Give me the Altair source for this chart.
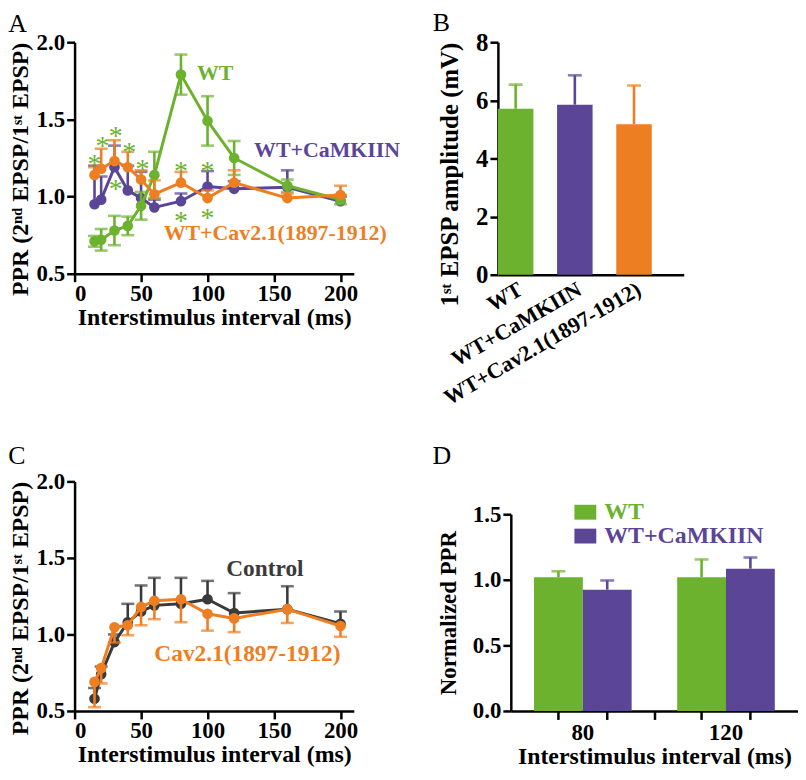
import altair as alt
import pandas as pd

FONT = "Liberation Serif"
GREEN = "#6cb22e"
PURPLE = "#5a4597"
ORANGE = "#ee7e22"
DARK = "#3a3a3a"

# ---------------- Panel A ----------------
isi = [15, 20, 30, 40, 50, 60, 80, 100, 120, 160, 200]
a_wt = [0.71, 0.72, 0.78, 0.81, 0.94, 1.14, 1.79, 1.49, 1.25, 1.07, 0.98]
a_wt_err = [0.035, 0.07, 0.095, 0.06, 0.09, 0.15, 0.13, 0.16, 0.11, 0.04, 0.03]
a_cam = [0.95, 0.98, 1.19, 1.04, 0.99, 0.93, 0.97, 1.065, 1.05, 1.06, 0.97]
a_cam_err = [0.25, 0.15, 0.14, 0.16, 0.17, 0.05, 0.05, 0.10, 0.05, 0.11, 0.03]
a_cav = [1.14, 1.18, 1.23, 1.19, 1.11, 1.015, 1.09, 0.99, 1.09, 0.99, 1.01]
a_cav_err = [0.05, 0.13, 0.135, 0.10, 0.06, 0.09, 0.07, 0.05, 0.08, 0.03, 0.06]

a_star_x = [15, 21, 31, 41, 51, 31, 80, 80, 100, 100]
a_star_y = [1.25, 1.365, 1.43, 1.33, 1.215, 1.09, 1.205, 0.88, 1.205, 0.90]

a_labels = ["WT", "WT+CaMKIIN", "WT+Cav2.1(1897-1912)"]
a_label_x = [92, 135, 67]
a_label_y = [1.80, 1.30, 0.765]
a_label_colors = [GREEN, PURPLE, ORANGE]

# ---------------- Panel B ----------------
b_groups = ["WT", "WT+CaMKIIN", "WT+Cav2.1(1897-1912)"]
b_mean = [5.71, 5.85, 5.18]
b_err = [0.83, 1.01, 1.33]
b_colors = [GREEN, PURPLE, ORANGE]

# ---------------- Panel C ----------------
c_ctrl = [0.58, 0.74, 0.95, 1.08, 1.15, 1.19, 1.20, 1.23, 1.14, 1.165, 1.07]
c_ctrl_err = [0.07, 0.05, 0.05, 0.12, 0.17, 0.18, 0.17, 0.12, 0.13, 0.15, 0.08]
c_cav = [0.69, 0.78, 1.047, 1.06, 1.18, 1.22, 1.23, 1.135, 1.105, 1.165, 1.055]
c_cav_err = [0.165, 0.10, 0.10, 0.065, 0.12, 0.12, 0.15, 0.11, 0.09, 0.09, 0.07]

c_labels = ["Control", "Cav2.1(1897-1912)"]
c_label_x = [114, 60]
c_label_y = [1.43, 0.87]
c_label_colors = [DARK, ORANGE]

# ---------------- Panel D ----------------
d_isi = ["80", "120"]
d_series = ["WT", "WT+CaMKIIN"]
d_wt = [1.02, 1.02]
d_wt_err = [0.045, 0.135]
d_cam = [0.925, 1.085]
d_cam_err = [0.07, 0.085]
d_colors = [GREEN, PURPLE]

X_TITLE = "Interstimulus interval (ms)"
PPR_TITLE = "PPR (2\u207f\u1d48 EPSP/1\u02e2\u1d57 EPSP)"


def panel_title(letter, offset, dx=0):
    return alt.TitleParams(letter, anchor="start", frame="bounds", font=FONT,
                           fontSize=26, fontWeight="normal", color="black",
                           baseline="top", offset=offset, dx=dx)


def ppr_panel(series, labels, lx, ly, lcol, lsize, stars, width, height, letter, toff):
    xs = alt.Scale(domain=[0, 210], nice=False, zero=False)
    ys = alt.Scale(domain=[0.5, 2.0], nice=False, zero=False)
    xax = alt.Axis(title=X_TITLE, values=[0, 50, 100, 150, 200], titlePadding=0,
                   labelPadding=1)
    yax = alt.Axis(title=PPR_TITLE, values=[0.5, 1.0, 1.5, 2.0], format=".1f",
                   titlePadding=4, titleAnchor="end")
    X = alt.X("isi:Q", scale=xs, axis=xax)
    layers = []
    for vals, errs, mode, color in series:
        rows, caps = [], []
        for x, v, e in zip(isi, vals, errs):
            lo = v - e if mode in ("both", "down") else v
            hi = v + e if mode in ("both", "up") else v
            rows.append({"isi": x, "v": v, "lo": lo, "hi": hi})
            if mode in ("both", "up"):
                caps.append({"isi": x, "c": hi})
            if mode in ("both", "down"):
                caps.append({"isi": x, "c": lo})
        d = pd.DataFrame(rows)
        cd = pd.DataFrame(caps)
        layers.append(alt.Chart(d).mark_rule(color=color, strokeWidth=2.6).encode(
            x=X, y=alt.Y("lo:Q", scale=ys, axis=yax), y2="hi:Q"))
        layers.append(alt.Chart(cd).mark_tick(color=color, orient="horizontal",
                                              size=13, thickness=2.6).encode(
            x=X, y=alt.Y("c:Q", scale=ys, axis=yax)))
        layers.append(alt.Chart(d).mark_line(color=color, strokeWidth=3).encode(
            x=X, y=alt.Y("v:Q", scale=ys, axis=yax)))
        layers.append(alt.Chart(d).mark_circle(color=color, size=115, opacity=1).encode(
            x=X, y=alt.Y("v:Q", scale=ys, axis=yax)))
    if stars is not None:
        sd = pd.DataFrame({"isi": stars[0], "s": stars[1]})
        layers.append(alt.Chart(sd).mark_text(text="*", font=FONT, fontSize=28,
                                              color=GREEN, baseline="middle", dy=7).encode(
            x=X, y=alt.Y("s:Q", scale=ys, axis=yax)))
    ld = pd.DataFrame({"isi": lx, "t": ly, "label": labels, "col": lcol})
    layers.append(alt.Chart(ld).mark_text(align="left", baseline="middle", font=FONT,
                                          fontSize=lsize, fontWeight="bold").encode(
        x=X, y=alt.Y("t:Q", scale=ys, axis=yax), text="label:N",
        color=alt.Color("col:N", scale=None)))
    return alt.layer(*layers).properties(width=width, height=height,
                                         title=panel_title(letter, toff))


pA = ppr_panel(
    [(a_cam, a_cam_err, "up", PURPLE), (a_wt, a_wt_err, "both", GREEN),
     (a_cav, a_cav_err, "up", ORANGE)],
    a_labels, a_label_x, a_label_y, a_label_colors, 22, (a_star_x, a_star_y),
    281, 233, "A", -6)

pC = ppr_panel(
    [(c_ctrl, c_ctrl_err, "up", DARK), (c_cav, c_cav_err, "down", ORANGE)],
    c_labels, c_label_x, c_label_y, c_label_colors, 23.5, None,
    281, 231, "C", 2)

# ---- Panel B ----
bdf = pd.DataFrame({"g": b_groups, "v": b_mean,
                    "hi": [m + e for m, e in zip(b_mean, b_err)]})
bx = alt.X("g:N", sort=b_groups,
           scale=alt.Scale(paddingInner=0.4, paddingOuter=0.27, align=0),
           axis=alt.Axis(title=None, labelAngle=-30, ticks=False, labelPadding=4,
                         labelLimit=0, labelFontSize=22))
bys = alt.Scale(domain=[0, 8], nice=False)
byax = alt.Axis(title="1\u02e2\u1d57 EPSP amplitude (mV)", values=[0, 2, 4, 6, 8],
                titlePadding=13, titleFontSize=25, titleAnchor="end",
                labelFontSize=25)
bcol = alt.Color("g:N", scale=alt.Scale(domain=b_groups, range=b_colors), legend=None)
pB = alt.layer(
    alt.Chart(bdf).mark_bar().encode(x=bx, y=alt.Y("v:Q", scale=bys, axis=byax), color=bcol),
    alt.Chart(bdf).mark_rule(strokeWidth=2.6).encode(
        x=bx, y=alt.Y("v:Q", scale=bys, axis=byax), y2="hi:Q", color=bcol),
    alt.Chart(bdf).mark_tick(orient="horizontal", size=14, thickness=2.6).encode(
        x=bx, y=alt.Y("hi:Q", scale=bys, axis=byax), color=bcol),
).properties(width=187, height=234, title=panel_title("B", -6, -5))

# ---- Panel D ----
ddf = pd.DataFrame({
    "isi": d_isi + d_isi,
    "s": [d_series[0]] * 2 + [d_series[1]] * 2,
    "v": d_wt + d_cam,
    "hi": [m + e for m, e in zip(d_wt + d_cam, d_wt_err + d_cam_err)],
})
dscale = alt.Scale(paddingInner=0.318, paddingOuter=0.162)
daxis = alt.Axis(title=X_TITLE, labelAngle=0, ticks=False, labelPadding=11,
                 titlePadding=0)
dx = alt.X("isi:N", sort=d_isi, scale=dscale, axis=daxis)
dxo = alt.XOffset("s:N", sort=d_series, scale=alt.Scale(paddingInner=0, paddingOuter=0))
dys = alt.Scale(domain=[0, 1.5], nice=False)
dyax = alt.Axis(title="Normalized PPR", values=[0, 0.5, 1.0, 1.5], format=".1f",
                titlePadding=12, titleFontSize=23)
dcol = alt.Color(
    "s:N", scale=alt.Scale(domain=d_series, range=d_colors),
    legend=alt.Legend(orient="none", legendX=63, legendY=-14, title=None,
                      symbolType="M-1,-0.68H1V0.68H-1Z", symbolSize=484,
                      symbolStrokeWidth=0, symbolOpacity=1,
                      labelFont=FONT, labelFontSize=24, labelFontWeight="bold",
                      labelColor={"expr": "datum.label == 'WT' ? '%s' : '%s'" % (GREEN, PURPLE)},
                      labelLimit=400, labelOffset=7, rowPadding=-2, padding=0))
tick_df = pd.DataFrame({"isi": d_isi + d_isi, "s": [d_series[0]] * 2 + [d_series[1]] * 2})
mid_df = pd.DataFrame({"isi": [d_isi[0]]})
pD = alt.layer(
    alt.Chart(ddf).mark_bar().encode(x=dx, xOffset=dxo,
                                     y=alt.Y("v:Q", scale=dys, axis=dyax), color=dcol),
    alt.Chart(ddf).mark_rule(strokeWidth=2.6).encode(
        x=dx, xOffset=dxo, y=alt.Y("v:Q", scale=dys, axis=dyax), y2="hi:Q", color=dcol),
    alt.Chart(ddf).mark_tick(orient="horizontal", size=14, thickness=2.6).encode(
        x=dx, xOffset=dxo, y=alt.Y("hi:Q", scale=dys, axis=dyax), color=dcol),
    alt.Chart(tick_df).mark_rule(color="black", strokeWidth=2.5).encode(
        x=dx, xOffset=dxo, y=alt.value(198), y2=alt.value(207)),
    alt.Chart(mid_df).mark_rule(color="black", strokeWidth=2.5, xOffset=23.5).encode(
        x=alt.X("isi:N", sort=d_isi, bandPosition=1, scale=dscale, axis=daxis),
        y=alt.value(198), y2=alt.value(207)),
).properties(width=289, height=198, title=panel_title("D", 32, -5))

chart = alt.concat(pA, pB, pC, pD, columns=2,
                   spacing={"row": 34, "column": 32}).properties(
    align="none",
    padding={"left": 0, "top": 0, "right": 0, "bottom": 0},
).resolve_scale(color="independent").configure_view(stroke=None).configure_axis(
    labelFont=FONT, labelFontSize=23, labelFontWeight="bold", labelColor="black",
    titleFont=FONT, titleFontSize=24, titleFontWeight="bold", titleColor="black",
    domainColor="black", domainWidth=2.5, tickColor="black", tickWidth=2.5,
    tickSize=8, grid=False, labelPadding=2, labelOverlap=False,
)

chart.save("out.html", embed_options={"renderer": "svg", "actions": False})
